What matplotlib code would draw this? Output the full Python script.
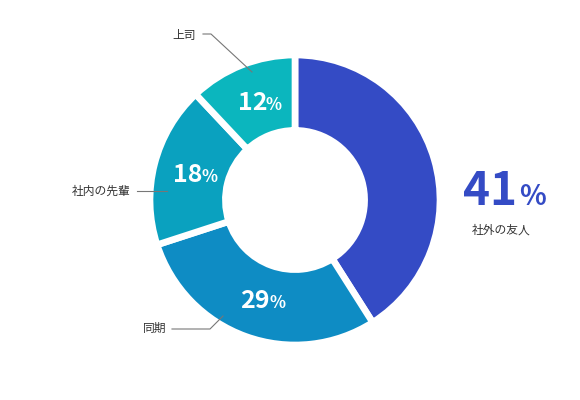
import matplotlib.pyplot as plt

plt.rcParams['font.family'] = ['Noto Sans CJK JP', 'DejaVu Sans']

labels = ['社外の友人', '同期', '社内の先輩', '上司']
shares = [41, 29, 18, 12]
colors = ['#344bc5', '#0e8cc4', '#0aa1bf', '#0bb6be']

W, H = 580, 400
fig = plt.figure(figsize=(5.8, 4.0), dpi=100)
ax = fig.add_axes([0, 0, 1, 1])

cx, cy, R = 295, 200, 145
ax.pie(shares, colors=colors, startangle=90, counterclock=False,
       center=(cx, cy), radius=R, frame=True,
       wedgeprops=dict(width=R * 0.52, edgecolor='white', linewidth=4.8))
ax.set_xlim(0, W)
ax.set_ylim(0, H)
ax.set_aspect('auto')
ax.axis('off')


def pct(x, y, value, color, big, small, gap=0):
    # number right of the anchor, percent sign left of it, same baseline
    ax.text(x, H - y, str(value), ha='right', va='baseline', color=color,
            fontsize=big, fontweight='bold')
    ax.text(x + gap, H - y, '%', ha='left', va='baseline', color=color,
            fontsize=small, fontweight='bold')


# values inside the ring
pct(267, 110, shares[3], 'white', 18, 12, -1)
pct(202, 182, shares[2], 'white', 18, 12, -1)
pct(270, 308, shares[1], 'white', 18, 12, -1)

# the biggest share sits outside
pct(517, 205, shares[0], '#344bc5', 33, 20, 2)
ax.text(501, H - 230, labels[0], ha='center', va='center', fontsize=8.5, color='#333333')

# callout labels with leader lines
line_kw = dict(color='#777777', linewidth=0.8)
ax.text(196, H - 35, labels[3], ha='right', va='center', fontsize=8.5, color='#333333')
ax.plot([203, 211, 252], [H - 34, H - 34, H - 72], **line_kw)

ax.text(131, H - 191, labels[2], ha='right', va='center', fontsize=8.5, color='#333333')
ax.plot([137, 167], [H - 191, H - 191], **line_kw)

ax.text(166, H - 328, labels[1], ha='right', va='center', fontsize=8.5, color='#333333')
ax.plot([172, 210, 223], [H - 329, H - 329, H - 316], **line_kw)

fig.savefig('out.png', dpi=100, facecolor='white')
